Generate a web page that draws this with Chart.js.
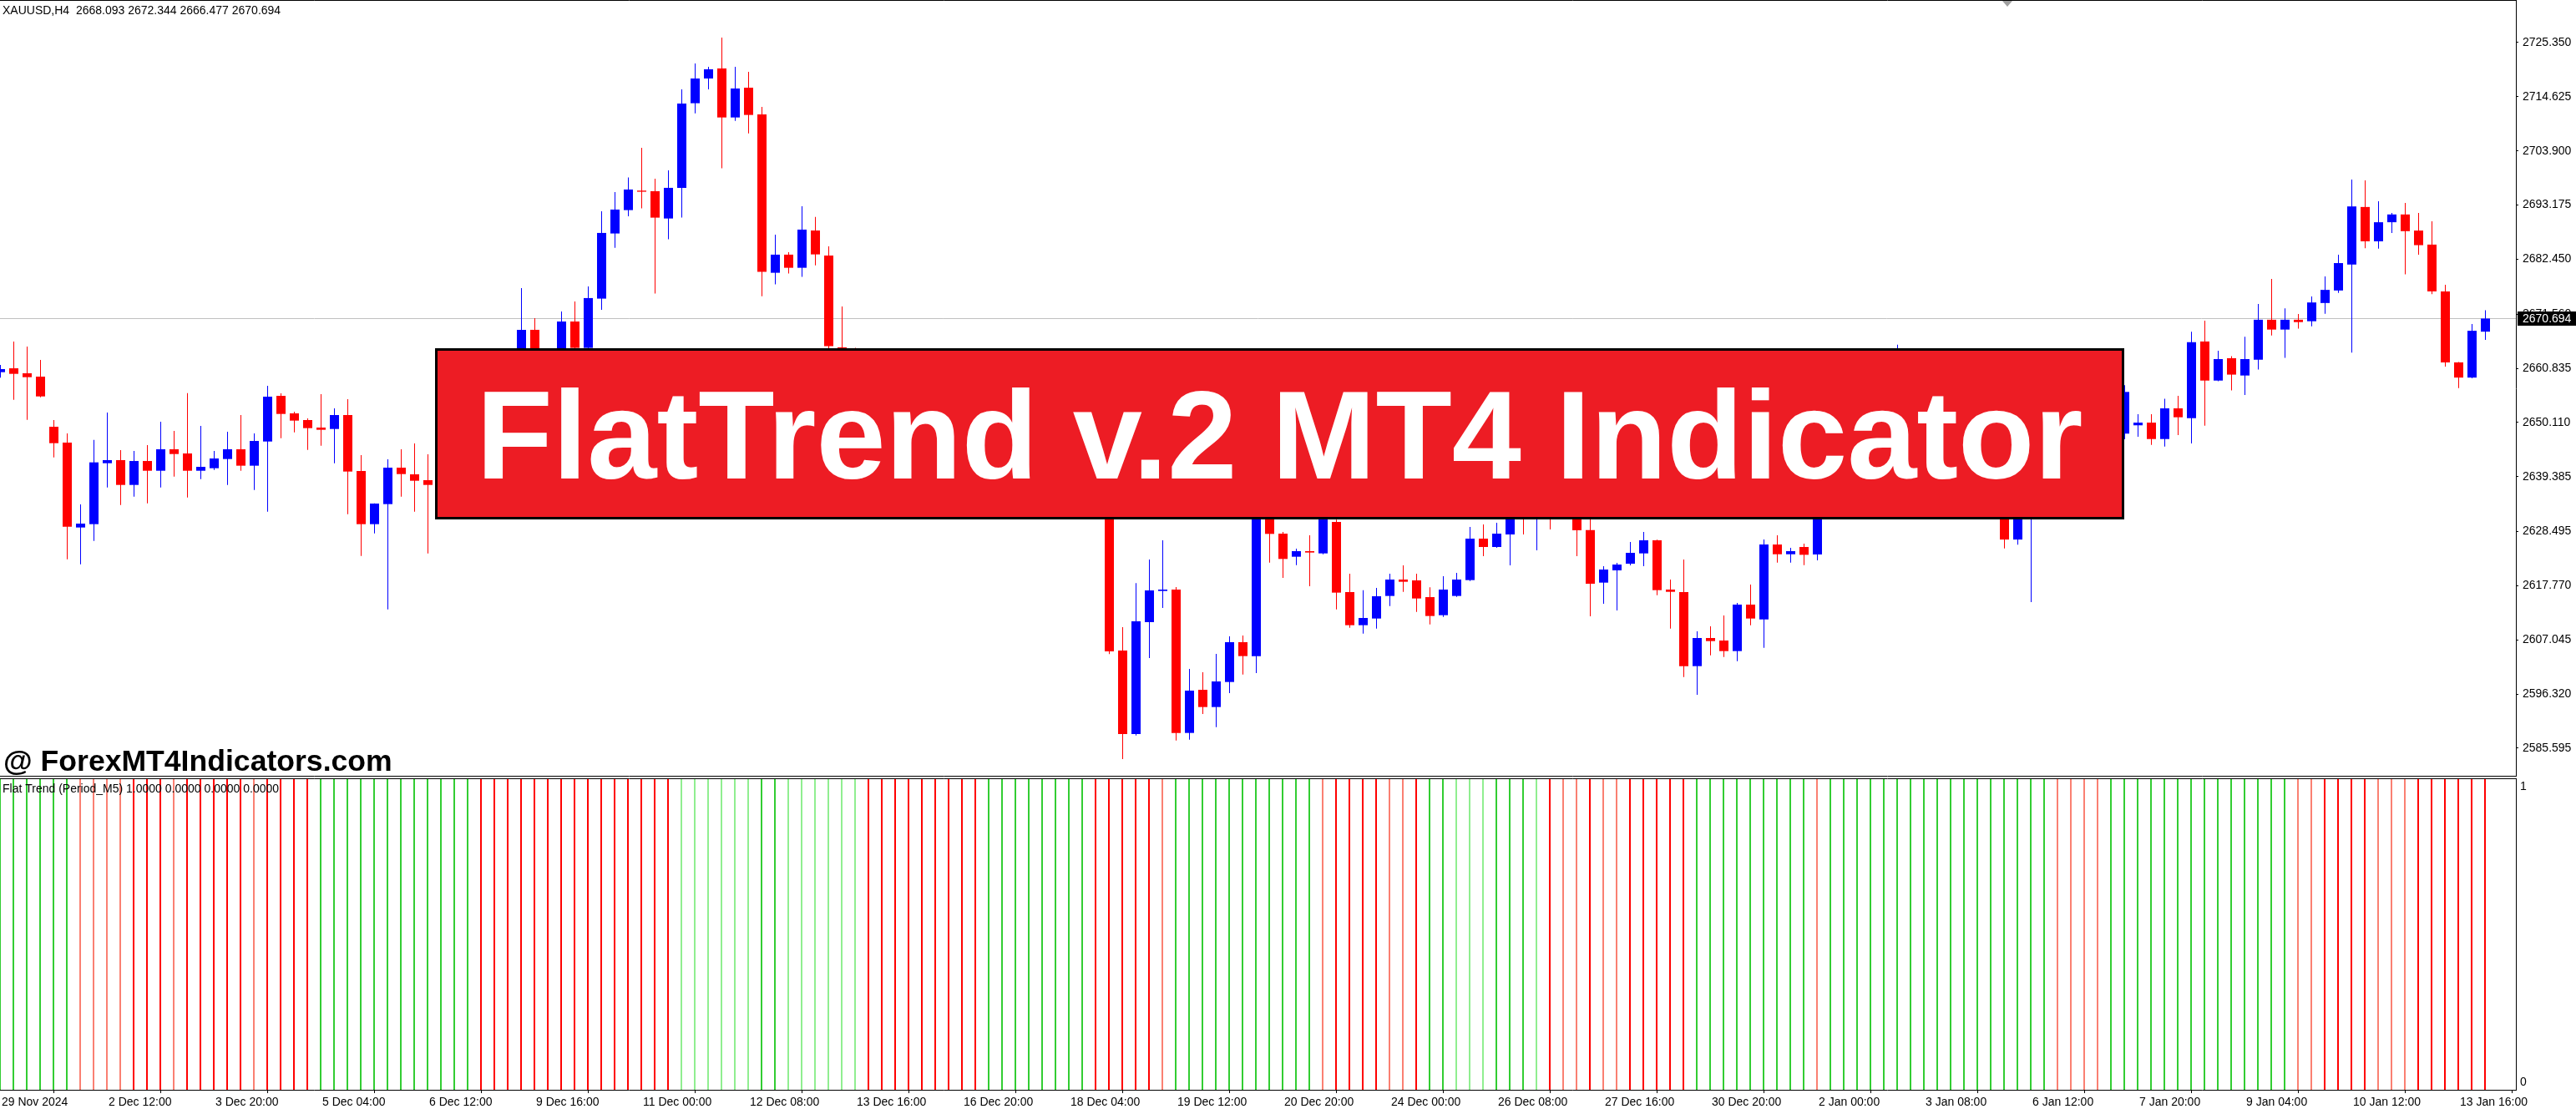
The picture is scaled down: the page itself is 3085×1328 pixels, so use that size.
<!DOCTYPE html>
<html>
<head>
<meta charset="utf-8">
<title>XAUUSD H4 - FlatTrend v.2</title>
<script src="https://cdn.jsdelivr.net/npm/chart.js@4.4.1/dist/chart.umd.min.js"></script>
<style>
  html, body { margin: 0; padding: 0; background: #fff; overflow: hidden; }
  #priceChart { position: absolute; left: 0; top: 0; }
  #trendChart { position: absolute; left: 0; top: 930px; }
</style>
</head>
<body>
<canvas id="priceChart" width="3085" height="930"></canvas>
<canvas id="trendChart" width="3085" height="398"></canvas>
<script>
// ---- data ----
const symbolName = 'XAUUSD,H4';

const openPrices = [
  2660.07, 2660.84, 2659.85, 2659.19, 2649.26, 2646.12, 2629.31, 2629.97, 2642.04, 2642.65,
  2637.74, 2642.48, 2640.55, 2644.80, 2643.97, 2640.55, 2641.05, 2642.87, 2644.80, 2641.55,
  2646.34, 2655.38, 2651.91, 2650.59, 2649.10, 2648.82, 2651.58, 2640.50, 2629.97, 2633.94,
  2641.16, 2639.84, 2638.68, 2637.74, 2642.50, 2648.00, 2645.00, 2651.50, 2656.00, 2653.20,
  2668.46, 2661.00, 2663.80, 2670.11, 2664.88, 2674.64, 2687.54, 2692.17, 2696.03, 2695.92,
  2690.51, 2696.58, 2713.34, 2718.24, 2720.23, 2710.52, 2716.42, 2711.13, 2679.76, 2683.35,
  2680.75, 2688.14, 2683.18, 2664.99, 2657.00, 2653.00, 2656.50, 2652.40, 2648.00, 2651.20,
  2647.50, 2643.20, 2646.80, 2649.50, 2647.00, 2650.20, 2646.00, 2643.50, 2645.60, 2643.00,
  2646.20, 2644.00, 2641.50, 2643.50, 2604.94, 2588.40, 2610.56, 2616.74, 2617.01, 2588.62,
  2597.17, 2593.75, 2598.71, 2606.59, 2603.84, 2632.00, 2628.09, 2623.52, 2624.62, 2624.18,
  2630.41, 2616.52, 2609.96, 2611.28, 2615.75, 2619.00, 2618.83, 2615.52, 2611.94, 2615.75,
  2618.89, 2627.10, 2625.45, 2627.93, 2633.50, 2631.50, 2634.00, 2632.20, 2634.50, 2628.80,
  2618.39, 2620.82, 2622.14, 2624.18, 2626.77, 2617.01, 2616.52, 2601.85, 2607.42, 2606.92,
  2604.83, 2614.04, 2611.11, 2625.94, 2624.01, 2625.45, 2623.97, 2638.00, 2635.50, 2641.00,
  2646.50, 2643.00, 2650.00, 2655.50, 2651.00, 2646.00, 2649.50, 2644.00, 2639.00, 2642.50,
  2636.00, 2626.92, 2634.00, 2640.50, 2645.00, 2641.50, 2646.00, 2649.00, 2651.00, 2647.90,
  2649.55, 2650.08, 2646.83, 2652.91, 2650.96, 2666.15, 2658.41, 2662.84, 2659.41, 2662.54,
  2670.46, 2668.51, 2670.46, 2670.16, 2673.77, 2676.25, 2681.39, 2692.79, 2685.99, 2689.77,
  2691.31, 2688.12, 2685.34, 2676.07, 2662.01, 2659.00, 2668.093
];
const highPrices = [
  2661.50, 2666.13, 2665.14, 2662.50, 2650.59, 2647.94, 2633.88, 2646.67, 2652.08, 2644.63,
  2644.47, 2645.62, 2650.26, 2648.44, 2655.93, 2649.43, 2644.47, 2648.27, 2651.58, 2647.94,
  2657.37, 2655.88, 2652.24, 2650.92, 2655.71, 2652.90, 2654.72, 2643.64, 2634.10, 2642.81,
  2644.80, 2645.96, 2643.81, 2644.00, 2649.50, 2650.50, 2653.00, 2658.20, 2659.00, 2676.73,
  2670.78, 2664.50, 2672.10, 2674.08, 2677.06, 2691.95, 2695.75, 2698.62, 2704.52, 2698.40,
  2700.05, 2716.09, 2721.22, 2720.56, 2726.35, 2720.56, 2719.57, 2712.62, 2687.32, 2683.84,
  2692.94, 2690.84, 2685.00, 2673.09, 2664.88, 2658.00, 2659.00, 2654.00, 2653.50, 2652.80,
  2649.00, 2648.60, 2651.00, 2652.50, 2652.00, 2651.50, 2648.00, 2647.20, 2647.00, 2648.50,
  2648.00, 2645.50, 2645.00, 2645.50, 2609.57, 2618.28, 2622.97, 2626.77, 2617.50, 2601.30,
  2600.64, 2604.28, 2607.75, 2607.92, 2635.00, 2633.50, 2628.43, 2625.12, 2627.76, 2632.50,
  2630.85, 2620.16, 2616.90, 2617.34, 2620.16, 2621.81, 2620.16, 2617.45, 2619.66, 2620.32,
  2629.42, 2629.91, 2630.24, 2636.00, 2637.50, 2637.00, 2636.50, 2636.80, 2637.00, 2631.00,
  2621.64, 2622.31, 2626.44, 2628.43, 2626.90, 2619.00, 2622.97, 2608.74, 2609.74, 2611.89,
  2614.37, 2618.01, 2626.94, 2627.76, 2625.28, 2626.11, 2640.50, 2641.00, 2643.00, 2648.50,
  2649.00, 2652.50, 2665.50, 2658.00, 2653.50, 2651.50, 2651.00, 2646.00, 2644.50, 2644.00,
  2638.00, 2636.00, 2642.00, 2647.00, 2647.50, 2648.00, 2650.50, 2653.00, 2653.50, 2657.50,
  2651.73, 2651.73, 2654.80, 2655.40, 2668.10, 2670.28, 2664.31, 2663.25, 2667.09, 2673.59,
  2678.55, 2672.70, 2671.58, 2675.07, 2679.02, 2683.34, 2698.22, 2698.04, 2693.91, 2691.60,
  2693.61, 2691.60, 2689.95, 2677.37, 2662.10, 2669.63, 2672.344
];
const lowPrices = [
  2659.00, 2654.61, 2650.64, 2655.10, 2643.20, 2623.02, 2622.03, 2626.66, 2637.25, 2633.77,
  2635.43, 2634.10, 2637.25, 2639.40, 2635.26, 2638.90, 2640.72, 2637.74, 2640.55, 2636.75,
  2632.45, 2647.00, 2648.16, 2644.69, 2645.51, 2642.04, 2631.95, 2623.68, 2628.15, 2613.10,
  2635.43, 2632.45, 2624.18, 2634.50, 2641.00, 2643.20, 2644.00, 2649.80, 2651.00, 2652.00,
  2659.50, 2658.00, 2662.00, 2662.30, 2663.50, 2672.43, 2684.72, 2690.95, 2692.50, 2675.63,
  2686.38, 2690.68, 2711.35, 2716.09, 2700.44, 2709.86, 2707.38, 2675.13, 2677.45, 2679.60,
  2678.94, 2681.25, 2661.50, 2655.00, 2650.50, 2651.20, 2650.50, 2646.20, 2646.80, 2645.50,
  2641.50, 2642.00, 2645.50, 2645.80, 2646.00, 2644.20, 2641.80, 2642.50, 2640.80, 2641.50,
  2642.50, 2639.00, 2640.20, 2604.22, 2583.44, 2588.13, 2603.45, 2613.37, 2587.13, 2587.30,
  2592.37, 2589.78, 2596.50, 2600.20, 2600.47, 2622.36, 2619.33, 2621.86, 2617.67, 2624.01,
  2613.10, 2609.46, 2608.30, 2609.29, 2613.76, 2616.57, 2612.60, 2610.12, 2611.61, 2615.58,
  2618.72, 2623.63, 2625.28, 2621.81, 2627.93, 2624.79, 2628.92, 2631.50, 2623.63, 2611.72,
  2614.20, 2612.88, 2621.81, 2621.64, 2615.91, 2609.29, 2599.70, 2596.17, 2603.98, 2603.67,
  2602.84, 2609.96, 2605.49, 2622.36, 2622.36, 2621.86, 2622.79, 2633.00, 2634.00, 2639.50,
  2641.00, 2642.00, 2648.50, 2649.00, 2644.00, 2644.50, 2642.00, 2637.00, 2637.50, 2634.00,
  2625.15, 2625.92, 2614.52, 2638.50, 2639.50, 2640.00, 2644.50, 2646.50, 2646.00, 2646.80,
  2647.30, 2645.65, 2645.35, 2647.60, 2645.94, 2649.49, 2658.30, 2656.46, 2655.57, 2660.59,
  2667.33, 2662.90, 2668.69, 2669.16, 2671.64, 2675.77, 2663.96, 2684.63, 2684.52, 2687.65,
  2679.44, 2683.34, 2675.54, 2661.18, 2656.93, 2658.88, 2666.477
];
const closePrices = [
  2660.68, 2659.74, 2659.08, 2655.27, 2646.01, 2629.47, 2630.08, 2642.21, 2642.65, 2637.74,
  2642.48, 2640.55, 2644.80, 2643.86, 2640.55, 2641.32, 2642.98, 2644.80, 2641.55, 2646.45,
  2655.22, 2651.80, 2650.48, 2648.99, 2648.66, 2651.58, 2640.39, 2629.97, 2634.05, 2641.16,
  2639.89, 2638.57, 2637.74, 2642.50, 2648.00, 2645.00, 2651.50, 2656.00, 2653.20, 2668.46,
  2661.00, 2663.80, 2670.11, 2664.88, 2674.75, 2687.65, 2692.28, 2696.25, 2695.81, 2690.68,
  2696.58, 2713.28, 2718.24, 2720.06, 2710.52, 2716.26, 2711.02, 2679.93, 2683.35, 2680.75,
  2688.31, 2683.40, 2665.21, 2657.00, 2653.00, 2656.50, 2652.40, 2648.00, 2651.20, 2647.50,
  2643.20, 2646.80, 2649.50, 2647.00, 2650.20, 2646.00, 2643.50, 2645.60, 2643.00, 2646.20,
  2644.00, 2641.50, 2643.50, 2604.77, 2588.40, 2610.73, 2616.85, 2617.01, 2588.62, 2597.00,
  2593.75, 2598.82, 2606.59, 2603.84, 2632.00, 2628.04, 2623.08, 2624.62, 2624.35, 2630.90,
  2616.41, 2609.96, 2611.39, 2615.69, 2619.00, 2618.56, 2615.25, 2611.78, 2617.01, 2619.00,
  2627.10, 2625.45, 2628.09, 2633.50, 2631.50, 2634.00, 2632.20, 2634.50, 2628.76, 2618.17,
  2620.98, 2621.97, 2624.29, 2626.77, 2616.90, 2616.57, 2601.85, 2607.42, 2606.81, 2604.83,
  2614.04, 2611.28, 2625.94, 2624.01, 2624.62, 2623.90, 2638.00, 2635.50, 2641.00, 2646.50,
  2643.00, 2650.00, 2655.50, 2651.00, 2646.00, 2649.50, 2644.00, 2639.00, 2642.50, 2636.00,
  2626.92, 2634.00, 2640.50, 2645.00, 2641.50, 2646.00, 2649.00, 2651.00, 2647.90, 2656.16,
  2650.08, 2646.83, 2652.91, 2651.14, 2666.03, 2658.41, 2662.66, 2659.59, 2662.66, 2670.46,
  2668.51, 2670.46, 2669.99, 2673.88, 2676.37, 2681.68, 2692.90, 2685.99, 2689.77, 2691.31,
  2688.00, 2685.23, 2676.07, 2662.01, 2659.00, 2668.27, 2670.694
];

// FlatTrend state per bar: G = trend up, g = weak up, R = trend down, r = weak down
const trendState = [
  'G','G','G','G','G','G','r','r','r','r',
  'R','R','R','r','R','R','R','R','R','r',
  'R','R','R','R','G','G','G','G','G','G',
  'G','G','G','G','G','G','R','R','R','R',
  'R','R','R','R','R','R','R','R','R','R',
  'R','g','g','g','g','g','g','G','G','g',
  'g','g','g','g','g','R','R','R','R','R',
  'R','R','R','R','G','G','G','G','G','G',
  'G','G','R','R','R','R','R','r','G','G',
  'G','G','G','G','G','G','G','G','G','r',
  'R','R','R','R','r','r','R','G','G','g',
  'g','g','G','G','G','g','R','r','r','R',
  'r','r','R','R','R','R','R','G','G','G',
  'G','G','G','G','G','G','r','G','G','G',
  'G','G','G','G','G','G','G','G','G','G',
  'G','G','G','G','r','r','r','r','G','G',
  'G','G','G','G','G','G','G','G','G','G',
  'G','G','r','r','R','R','R','R','r','r',
  'r','R','R','R','R','R','R'
];
const trendLabel = 'Flat Trend (Period_M5) 1.0000 0.0000 0.0000 0.0000';

const priceTicks = [2725.350, 2714.625, 2703.900, 2693.175, 2682.450, 2671.560, 2660.835,
                    2650.110, 2639.385, 2628.495, 2617.770, 2607.045, 2596.320, 2585.595];
const priceTickLabels = ['2725.350', '2714.625', '2703.900', '2693.175', '2682.450', '2671.560', '2660.835',
                         '2650.110', '2639.385', '2628.495', '2617.770', '2607.045', '2596.320', '2585.595'];

const timeLabels = ['29 Nov 2024', '2 Dec 12:00', '3 Dec 20:00', '5 Dec 04:00', '6 Dec 12:00', '9 Dec 16:00',
                    '11 Dec 00:00', '12 Dec 08:00', '13 Dec 16:00', '16 Dec 20:00', '18 Dec 04:00', '19 Dec 12:00',
                    '20 Dec 20:00', '24 Dec 00:00', '26 Dec 08:00', '27 Dec 16:00', '30 Dec 20:00', '2 Jan 00:00',
                    '3 Jan 08:00', '6 Jan 12:00', '7 Jan 20:00', '9 Jan 04:00', '10 Jan 12:00', '13 Jan 16:00'];
const timeLabelBars = [0, 8, 16, 24, 32, 40, 48, 56, 64, 72, 80, 88, 96, 104, 112, 120, 128, 136, 144, 152, 160, 168, 176, 184];

const trendTicks = [0.025, 0.975];
const trendTickLabels = ['0', '1'];

const bannerText = 'FlatTrend v.2 MT4 Indicator';
const watermarkText = '@ ForexMT4Indicators.com';

// ---- layout ----
const BAR_PX = 16;           // one bar every 16 px
const PLOT_RIGHT = 3013;     // right edge of the plot areas
const AXIS_W = 3085 - PLOT_RIGHT;
const FONT = "'Liberation Sans', Arial, sans-serif";
const PRICE_MIN = 2579.965;
const PRICE_MAX = 2733.785;

Chart.defaults.font.family = FONT;
Chart.defaults.font.size = 14;
Chart.defaults.color = '#000';

const last = closePrices.length - 1;
const barIndex = closePrices.map((c, i) => i);
const candleColor = barIndex.map(i => closePrices[i] >= openPrices[i] ? '#0000FF' : '#FF0000');

function fitFont(ctx, text, weight, targetWidth) {
    ctx.font = `${weight} 100px ${FONT}`;
    const w = ctx.measureText(text).width;
    ctx.font = `${weight} ${(100 * targetWidth / w).toFixed(2)}px ${FONT}`;
}

function noPadding(scale) {
    scale.paddingTop = 0;
    scale.paddingBottom = 0;
    scale.paddingLeft = 0;
    scale.paddingRight = 0;
}

const priceDecor = {
    id: 'priceDecor',
    beforeDatasetsDraw(chart) {
        // bid line
        const { ctx, chartArea: a } = chart;
        const yb = Math.round(chart.scales.y.getPixelForValue(closePrices[last])) + 0.5;
        ctx.save();
        ctx.strokeStyle = '#C0C0C0';
        ctx.lineWidth = 1;
        ctx.beginPath();
        ctx.moveTo(a.left, yb);
        ctx.lineTo(a.right, yb);
        ctx.stroke();
        ctx.restore();
    },
    afterDraw(chart) {
        const { ctx, chartArea: a } = chart;
        ctx.save();

        // frame
        ctx.strokeStyle = '#000';
        ctx.lineWidth = 1;
        ctx.beginPath();
        ctx.moveTo(a.left, a.top + 0.5);
        ctx.lineTo(a.right + 1, a.top + 0.5);
        ctx.moveTo(a.left, a.bottom - 0.5);
        ctx.lineTo(a.right + 1, a.bottom - 0.5);
        ctx.stroke();

        // chart shift marker
        ctx.fillStyle = '#A0A0A0';
        ctx.beginPath();
        ctx.moveTo(2398, 1);
        ctx.lineTo(2410, 1);
        ctx.lineTo(2404, 8);
        ctx.closePath();
        ctx.fill();

        // header line
        const ohlc = [openPrices[last], highPrices[last], lowPrices[last], closePrices[last]]
            .map(v => v.toFixed(3)).join(' ');
        ctx.fillStyle = '#000';
        ctx.font = `14px ${FONT}`;
        ctx.textAlign = 'left';
        ctx.textBaseline = 'alphabetic';
        ctx.fillText(`${symbolName}  ${ohlc}`, 3, 17);

        // current price tag
        const yb = Math.round(chart.scales.y.getPixelForValue(closePrices[last]));
        ctx.fillRect(a.right + 2, yb - 8, 3085 - a.right - 2, 17);
        ctx.fillStyle = '#fff';
        ctx.textBaseline = 'middle';
        ctx.fillText(closePrices[last].toFixed(3), a.right + 8, yb + 1);

        // banner
        const box = { left: 521, top: 417, right: 2544, bottom: 622 };
        ctx.fillStyle = '#ED1C24';
        ctx.fillRect(box.left, box.top, box.right - box.left, box.bottom - box.top);
        ctx.strokeStyle = '#000';
        ctx.lineWidth = 3;
        ctx.strokeRect(box.left + 1.5, box.top + 1.5, box.right - box.left - 3, box.bottom - box.top - 3);
        fitFont(ctx, bannerText, 'bold', 1924);
        ctx.fillStyle = '#fff';
        ctx.textAlign = 'center';
        ctx.textBaseline = 'alphabetic';
        ctx.fillText(bannerText, (box.left + box.right) / 2, 573);

        // watermark
        fitFont(ctx, watermarkText, 'bold', 466);
        ctx.fillStyle = '#000';
        ctx.textAlign = 'left';
        ctx.fillText(watermarkText, 4, 923);

        ctx.restore();
    }
};

new Chart(document.getElementById('priceChart'), {
    type: 'bar',
    data: {
        datasets: [
            {
                label: 'Body',
                data: barIndex.map(i => ({ x: i, y: [openPrices[i], closePrices[i]] })),
                backgroundColor: candleColor,
                barThickness: 11,
                minBarLength: 1,
                grouped: false,
                inflateAmount: 0,
                borderWidth: 0,
                order: 1
            },
            {
                label: 'Wick',
                data: barIndex.map(i => ({ x: i, y: [lowPrices[i], highPrices[i]] })),
                backgroundColor: candleColor,
                barThickness: 1,
                grouped: false,
                inflateAmount: 0,
                borderWidth: 0,
                order: 2
            }
        ]
    },
    options: {
        responsive: false,
        animation: false,
        devicePixelRatio: 1,
        events: [],
        layout: { padding: 0, autoPadding: false },
        plugins: { legend: { display: false }, tooltip: { enabled: false } },
        scales: {
            x: {
                type: 'linear',
                offset: false,
                min: -0.5 / BAR_PX,
                max: (PLOT_RIGHT - 0.5) / BAR_PX,
                display: false
            },
            y: {
                position: 'right',
                min: PRICE_MIN,
                max: PRICE_MAX,
                afterBuildTicks: scale => { scale.ticks = priceTicks.map(v => ({ value: v })); },
                afterFit: scale => { scale.width = AXIS_W; noPadding(scale); },
                ticks: {
                    callback: (v, i) => priceTickLabels[i],
                    autoSkip: false,
                    padding: 5,
                    color: '#000',
                    font: { family: FONT, size: 14 }
                },
                grid: { drawOnChartArea: false, drawTicks: true, tickLength: 3, color: '#000' },
                border: { display: true, color: '#000' }
            }
        }
    },
    plugins: [priceDecor]
});

// ---- FlatTrend panel ----
const trendColors = { G: '#32CD32', g: '#90EE90', R: '#FF0000', r: '#FA8072' };
const trendWidths = { G: 2, g: 2, R: 2, r: 2 };

const trendDecor = {
    id: 'trendDecor',
    afterDraw(chart) {
        const { ctx, chartArea: a } = chart;
        ctx.save();
        ctx.strokeStyle = '#000';
        ctx.lineWidth = 1;
        ctx.beginPath();
        ctx.moveTo(a.left, a.top - 0.5);
        ctx.lineTo(a.right + 1, a.top - 0.5);
        ctx.stroke();
        ctx.fillStyle = '#000';
        ctx.font = `14px ${FONT}`;
        ctx.textAlign = 'left';
        ctx.textBaseline = 'alphabetic';
        ctx.fillText(trendLabel, 3, a.top + 16);
        ctx.restore();
    }
};

new Chart(document.getElementById('trendChart'), {
    type: 'bar',
    data: {
        datasets: Object.keys(trendColors).map(code => ({
            label: code,
            data: barIndex.filter(i => trendState[i] === code).map(i => ({ x: i, y: 1 })),
            backgroundColor: trendColors[code],
            barThickness: trendWidths[code],
            grouped: false,
            inflateAmount: 0,
            borderWidth: 0
        }))
    },
    options: {
        responsive: false,
        animation: false,
        devicePixelRatio: 1,
        events: [],
        layout: { padding: { top: 3, left: 0, right: 0, bottom: 0 }, autoPadding: false },
        plugins: { legend: { display: false }, tooltip: { enabled: false } },
        scales: {
            x: {
                type: 'linear',
                offset: false,
                min: 0,
                max: PLOT_RIGHT / BAR_PX,
                afterBuildTicks: scale => { scale.ticks = timeLabelBars.map(v => ({ value: v })); },
                afterFit: scale => { scale.height = 23; noPadding(scale); },
                ticks: {
                    callback: (v, i) => timeLabels[i],
                    autoSkip: false,
                    maxRotation: 0,
                    minRotation: 0,
                    align: 'start',
                    labelOffset: 2,
                    padding: 3,
                    color: '#000',
                    font: { family: FONT, size: 14 }
                },
                grid: { drawOnChartArea: false, drawTicks: true, tickLength: 4, color: '#000' },
                border: { display: true, color: '#000' }
            },
            y: {
                position: 'right',
                min: 0,
                max: 1,
                afterBuildTicks: scale => { scale.ticks = trendTicks.map(v => ({ value: v })); },
                afterFit: scale => { scale.width = AXIS_W; noPadding(scale); },
                ticks: {
                    callback: (v, i) => trendTickLabels[i],
                    autoSkip: false,
                    padding: 5,
                    color: '#000',
                    font: { family: FONT, size: 14 }
                },
                grid: { drawOnChartArea: false, drawTicks: false },
                border: { display: true, color: '#000' }
            }
        }
    },
    plugins: [trendDecor]
});
</script>
</body>
</html>
